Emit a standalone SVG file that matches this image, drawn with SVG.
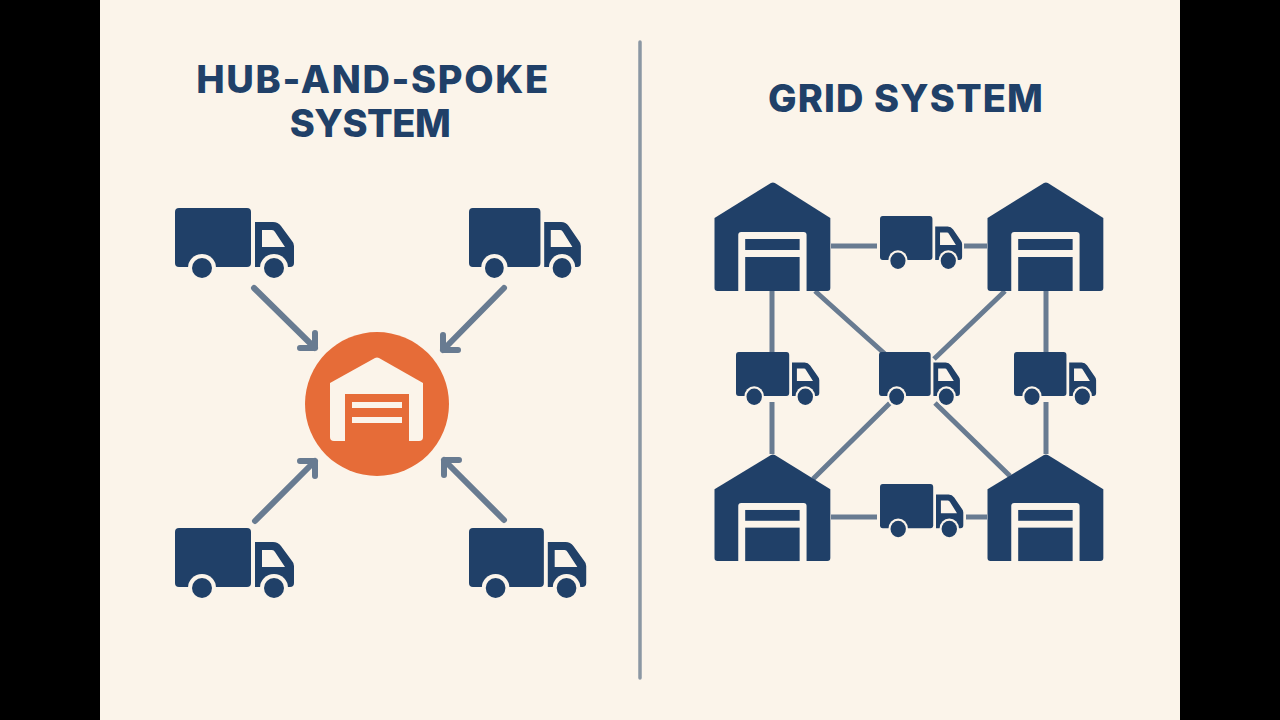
<svg xmlns="http://www.w3.org/2000/svg" width="1280" height="720" viewBox="0 0 1280 720">
<style>
.title{font-family:"Inter","Liberation Sans",sans-serif;font-weight:800;font-size:38px;fill:#204068;text-anchor:middle}
.link{stroke:#687b91;stroke-width:5;fill:none}
.arrow{stroke:#687b91;stroke-width:6;fill:none;stroke-linecap:round;stroke-linejoin:round}
.navy{fill:#204068}
.paper{fill:#fbf4ea}
</style>
<defs>
<g id="truck-body">
<rect class="navy" x="0" y="0" width="76" height="59" rx="4"/>
<path class="navy" d="M80 14H98Q103 14 106 18L117 33Q119 35 119 38V55Q119 59 115 59H80Z"/>
<path class="paper" d="M87 22H97Q99 22 100 24L110 39H87Z"/>
</g>
<g id="truck">
<use href="#truck-body"/>
<circle class="paper" cx="27" cy="60" r="14"/>
<circle class="paper" cx="99" cy="60" r="14"/>
<circle class="navy" cx="27" cy="60" r="10"/>
<circle class="navy" cx="99" cy="60" r="10"/>
</g>
<g id="truck-small">
<use href="#truck-body"/>
<circle class="paper" cx="26" cy="60" r="14"/>
<circle class="paper" cx="99" cy="60" r="14"/>
<circle class="navy" cx="26" cy="60" r="11"/>
<circle class="navy" cx="99" cy="60" r="11"/>
</g>
<g id="warehouse">
<path class="navy" d="M0 36L57 1Q59 0 61 1L117 36V106Q117 109 114 109H3Q0 109 0 106Z"/>
<path class="paper" d="M24 109V53Q24 50 27 50H90Q93 50 93 53V109Z"/>
<rect class="navy" x="31" y="57" width="55" height="11"/>
<rect class="navy" x="31" y="75" width="55" height="34"/>
</g>
</defs>
<rect width="1280" height="720" fill="#000"/>
<rect x="100" width="1080" height="720" fill="#fbf4ea"/>
<line x1="640" y1="42" x2="640" y2="678" stroke="#8b97a3" stroke-width="3.5" stroke-linecap="round"/>
<text class="title" x="373" y="92.5" letter-spacing="1.65">HUB-AND-SPOKE</text>
<text class="title" x="370" y="137" letter-spacing="-.5">SYSTEM</text>
<text class="title" x="906" y="112" letter-spacing="1.1">GRID SYSTEM</text>
<g id="connectors">
<path class="arrow" d="M254 288L315 348M315 333V348H300"/>
<path class="arrow" d="M504 288L443 350M443 335V350H458"/>
<path class="arrow" d="M255 521L315 461M300 461H315V476"/>
<path class="arrow" d="M504 520L444 460M444 475V460H459"/>
<path class="link" d="M831 246H877M964 246H987M831 517H877M966 517H987M772 291V352M772 402V454M1046 291V352M1046 402V454M815 291L885 354M1005 291L934 359M890 403L813 479M935 403L1010 476"/>
</g>
<g id="truck-tl"><use href="#truck" transform="translate(175 208)"/></g>
<g id="truck-tr"><use href="#truck" transform="translate(469 208) scale(.94 1)"/></g>
<g id="truck-bl"><use href="#truck" transform="translate(175 528)"/></g>
<g id="truck-br"><use href="#truck" transform="translate(469 528) scale(.985 1)"/></g>
<g id="hub">
<circle cx="377" cy="404" r="72" fill="#e66c38"/>
<path fill="#fbf4ea" d="M330 383L375 358Q377 357 379 358L423 383V437Q423 441 419 441H334Q330 441 330 437Z"/>
<rect x="345" y="394" width="64" height="47" fill="#e66c38"/>
<rect x="352" y="402" width="50" height="6" fill="#fbf4ea"/>
<rect x="352" y="417" width="50" height="6" fill="#fbf4ea"/>
</g>
<g id="wh-tl"><use href="#warehouse" transform="translate(714.5 182) scale(.99 1)"/></g>
<g id="wh-tr"><use href="#warehouse" transform="translate(987.5 182) scale(.99 1)"/></g>
<g id="wh-bl"><use href="#warehouse" transform="translate(714.5 454) scale(.99 .982)"/></g>
<g id="wh-br"><use href="#warehouse" transform="translate(987.5 454) scale(.99 .982)"/></g>
<g id="truck-grid-top"><use href="#truck-small" transform="translate(880 216) scale(.69 .745)"/></g>
<g id="truck-grid-left"><use href="#truck-small" transform="translate(736 352) scale(.7 .745)"/></g>
<g id="truck-grid-center"><use href="#truck-small" transform="translate(879 352) scale(.68 .745)"/></g>
<g id="truck-grid-right"><use href="#truck-small" transform="translate(1014 352) scale(.69 .745)"/></g>
<g id="truck-grid-bottom"><use href="#truck-small" transform="translate(880 484) scale(.7 .75)"/></g>
</svg>
